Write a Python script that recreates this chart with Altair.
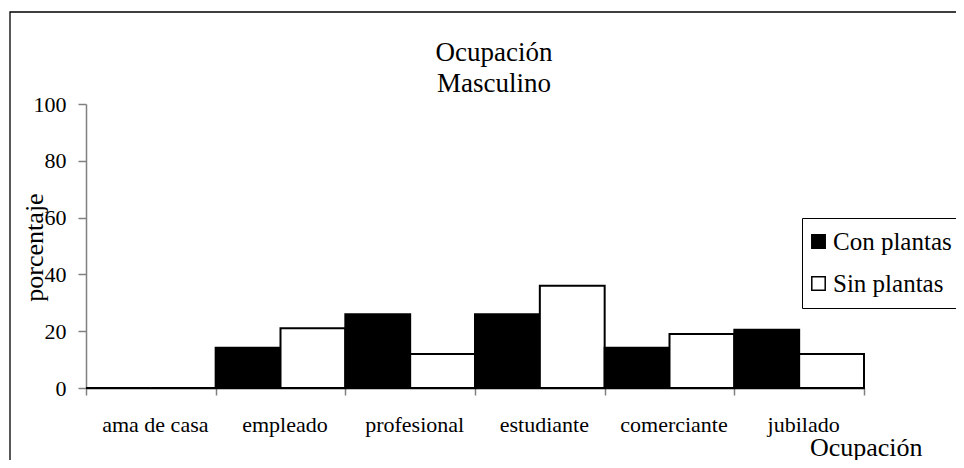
import altair as alt
import pandas as pd

categorias = ["ama de casa", "empleado", "profesional", "estudiante", "comerciante", "jubilado"]
con_plantas = [0, 14.2, 26.0, 26.0, 14.2, 20.5]
sin_plantas = [0, 21.0, 12.0, 36.0, 19.0, 12.0]
grupos = ["Con plantas", "Sin plantas"]
y_ticks = [0, 20, 40, 60, 80, 100]

rows = []
for c, a, b in zip(categorias, con_plantas, sin_plantas):
    rows.append({"ocupacion": c, "grupo": grupos[0], "valor": a})
    rows.append({"ocupacion": c, "grupo": grupos[1], "valor": b})
df = pd.DataFrame(rows)

FONT = "Liberation Serif"

frame = alt.Chart(pd.DataFrame({"k": [0]})).mark_rect(
    filled=False, stroke="black", strokeWidth=1.3
).encode(
    x=alt.value(-76), x2=alt.value(2000), y=alt.value(-92), y2=alt.value(1000)
)

bars = alt.Chart(df).mark_bar(stroke="black", strokeWidth=2).encode(
    x=alt.X(
        "ocupacion:N",
        sort=categorias,
        scale=alt.Scale(paddingInner=0, paddingOuter=0),
        axis=alt.Axis(
            title="Ocupación",
            labelAngle=0,
            tickBand="extent",
            domainColor="black",
            domainWidth=1.5,
            tickColor="#808080",
            tickWidth=1.5,
            tickSize=7,
            labelFont=FONT,
            labelFontSize=22,
            labelColor="black",
            labelPadding=19,
            labelOffset=4,
            titleFont=FONT,
            titleFontSize=26,
            titleFontWeight="normal",
            titleColor="black",
            titleX=836,
            titleY=67,
            titleAlign="right",
            titleBaseline="alphabetic",
            titleAnchor="end",
        ),
    ),
    xOffset=alt.XOffset("grupo:N", sort=grupos, scale=alt.Scale(paddingInner=0, paddingOuter=0)),
    y=alt.Y(
        "valor:Q",
        scale=alt.Scale(domain=[0, 100], nice=False),
        axis=alt.Axis(
            values=y_ticks,
            title="porcentaje",
            grid=False,
            domainColor="#808080",
            domainWidth=1.5,
            tickColor="#808080",
            tickWidth=1.5,
            tickSize=8,
            labelFont=FONT,
            labelFontSize=22,
            labelColor="black",
            labelPadding=12,
            titleFont=FONT,
            titleFontSize=26,
            titleFontWeight="normal",
            titleColor="black",
            titleX=-52,
            titleY=143,
            titleAngle=270,
            titleAlign="center",
            titleBaseline="middle",
        ),
    ),
    color=alt.Color(
        "grupo:N",
        sort=grupos,
        scale=alt.Scale(domain=grupos, range=["black", "white"]),
        legend=alt.Legend(
            title=None,
            orient="none",
            legendX=716,
            legendY=114,
            labelFont=FONT,
            labelFontSize=25,
            labelColor="black",
            symbolType="square",
            symbolSize=180,
            symbolStrokeColor="black",
            symbolStrokeWidth=1.5,
            symbolOffset=-7,
            labelOffset=2,
            rowPadding=16,
            padding=11,
            strokeColor="black",
            fillColor="white",
        ),
    ),
)

chart = alt.layer(frame, bars).properties(
    width=778,
    height=284,
    autosize=alt.AutoSizeParams(type="none"),
    padding={"left": 78, "top": 96, "right": 92, "bottom": 72},
    title=alt.TitleParams(
        text=["Ocupación", "Masculino"],
        font=FONT,
        fontSize=27,
        fontWeight="normal",
        color="black",
        anchor="middle",
        dx=19,
        dy=95,
        lineHeight=31,
        offset=8,
    ),
).configure_view(stroke=None)

chart.save("out.html", embed_options={"renderer": "svg", "actions": False})
